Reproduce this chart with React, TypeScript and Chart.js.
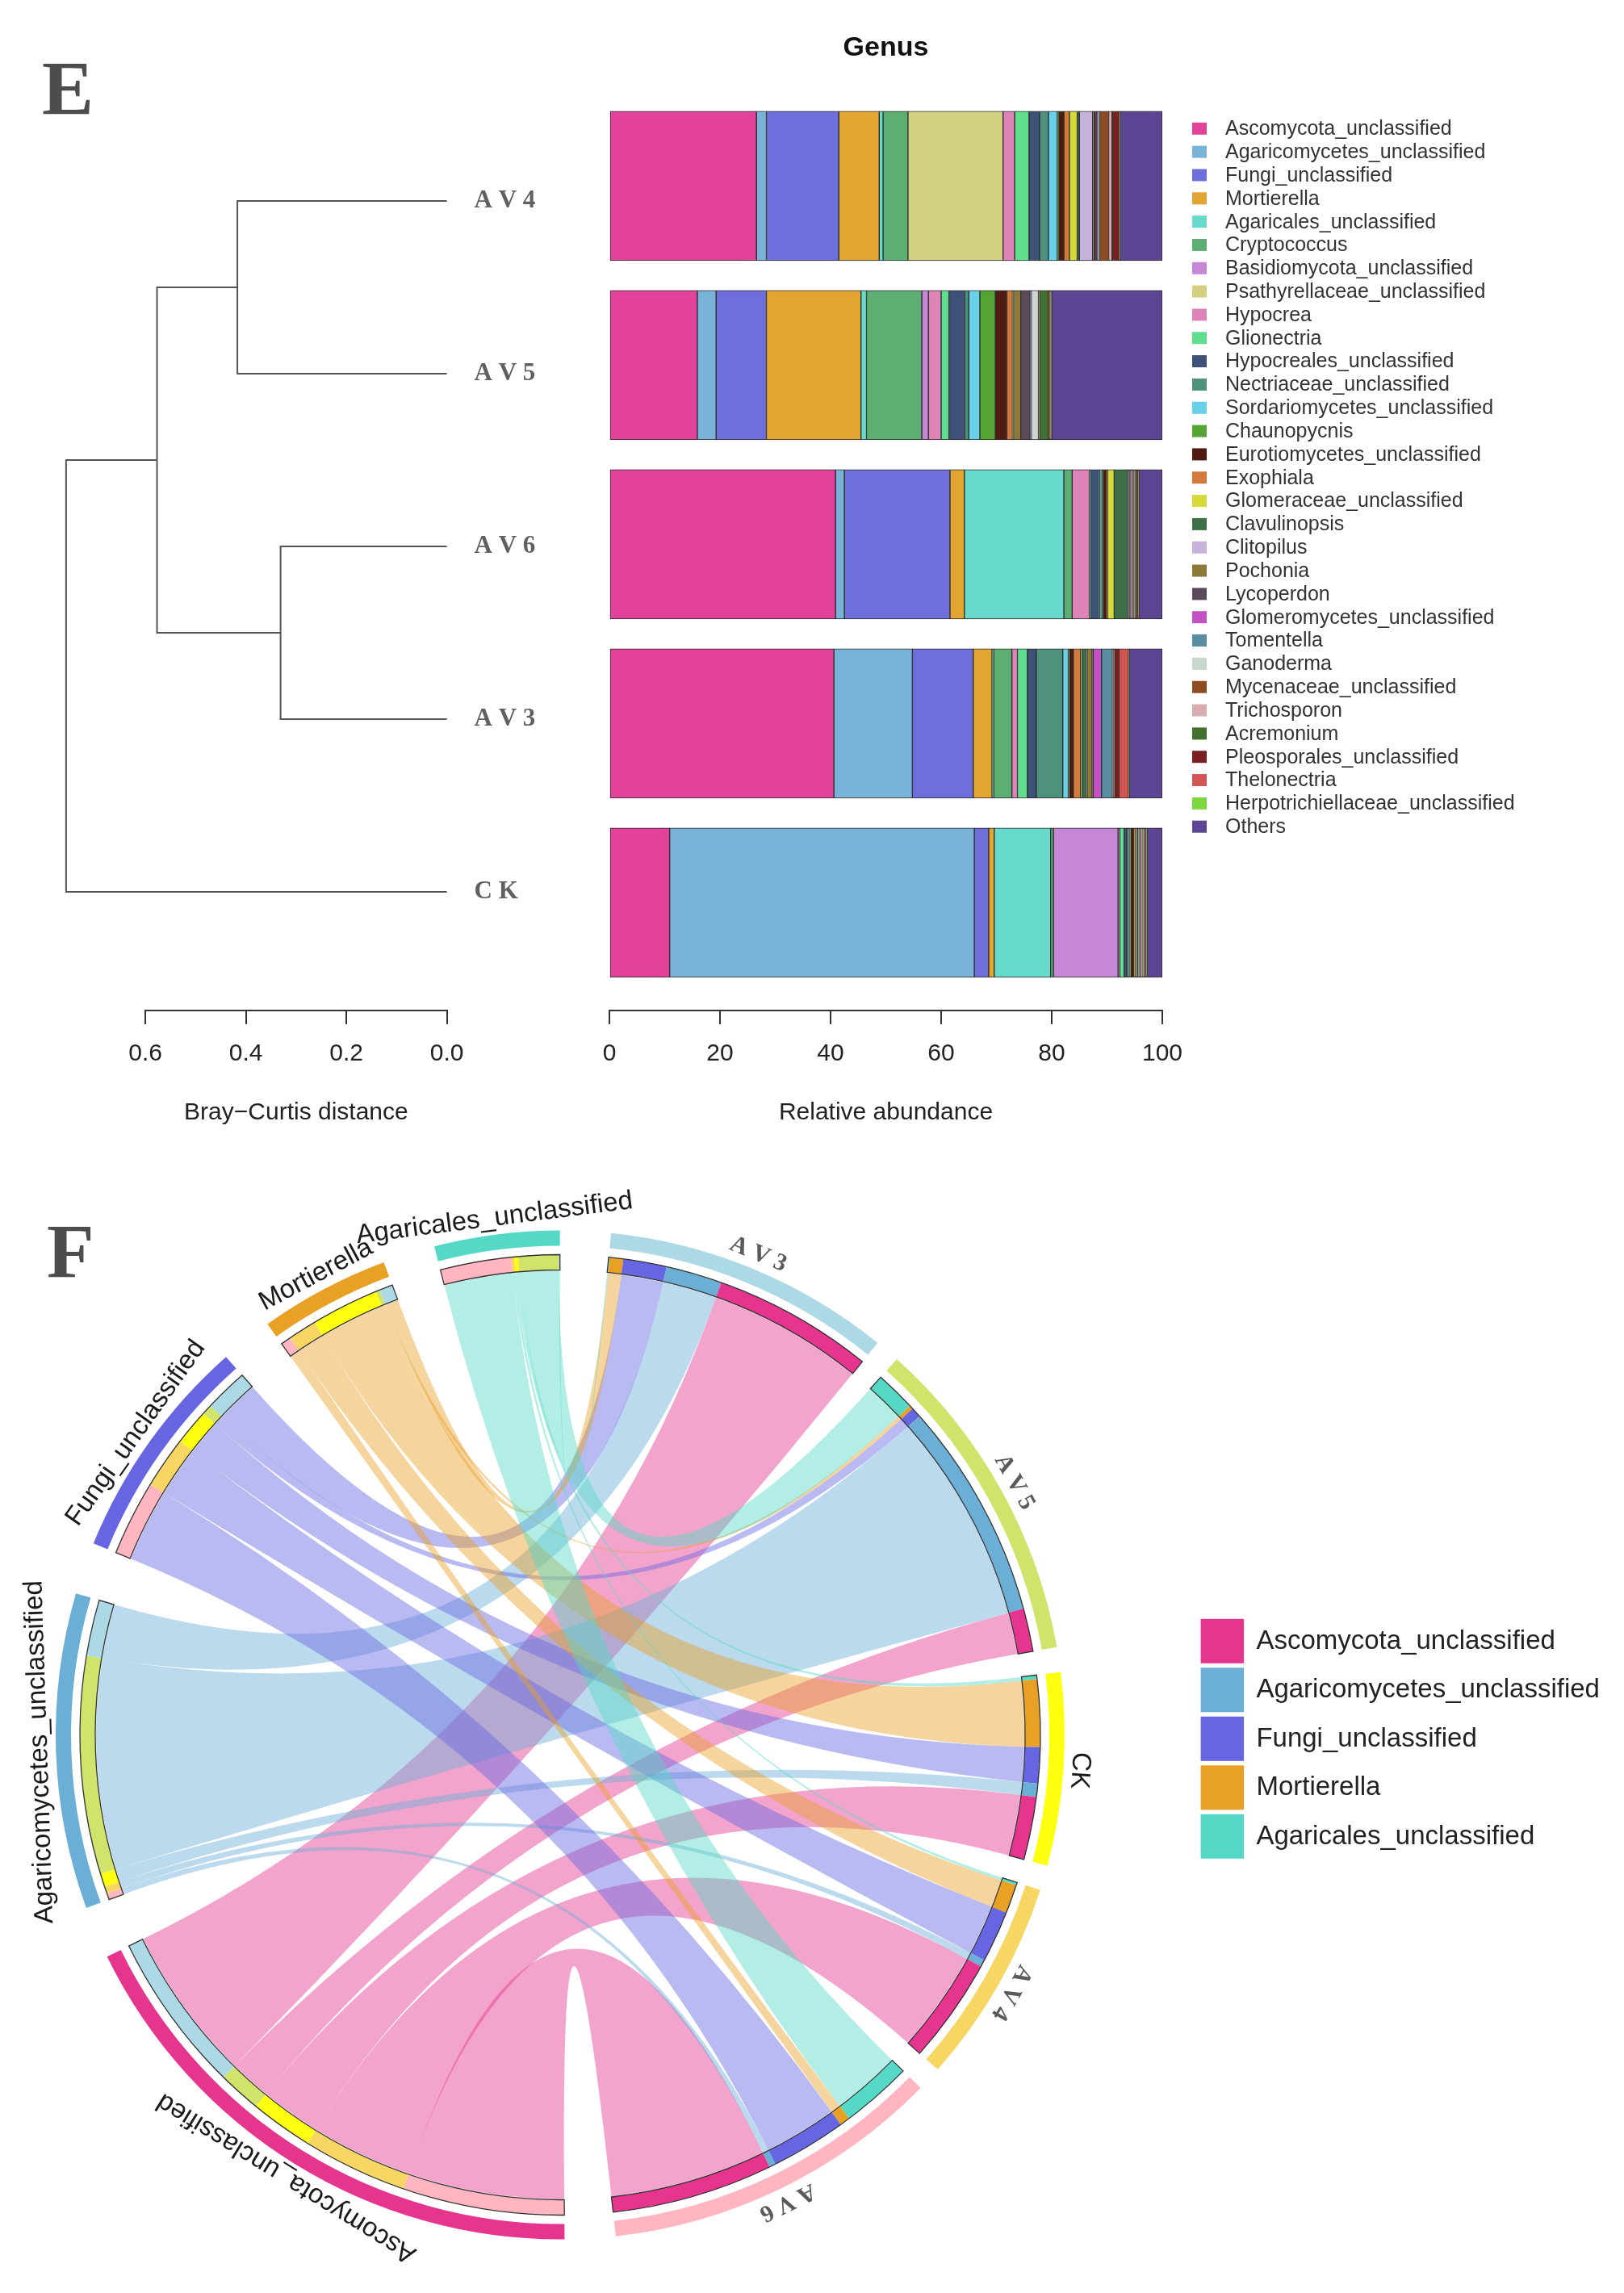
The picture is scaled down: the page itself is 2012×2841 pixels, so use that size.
import React, { useEffect, useRef } from 'react';
import { Chart, registerables } from 'chart.js';

Chart.register(...registerables);
Chart.defaults.font.family = '"Liberation Sans", Arial, Helvetica, sans-serif';

/* ================= Panel E : genus composition ================= */
const GENERA = [
  'Ascomycota_unclassified', 'Agaricomycetes_unclassified', 'Fungi_unclassified', 'Mortierella',
  'Agaricales_unclassified', 'Cryptococcus', 'Basidiomycota_unclassified', 'Psathyrellaceae_unclassified',
  'Hypocrea', 'Glionectria', 'Hypocreales_unclassified', 'Nectriaceae_unclassified',
  'Sordariomycetes_unclassified', 'Chaunopycnis', 'Eurotiomycetes_unclassified', 'Exophiala',
  'Glomeraceae_unclassified', 'Clavulinopsis', 'Clitopilus', 'Pochonia', 'Lycoperdon',
  'Glomeromycetes_unclassified', 'Tomentella', 'Ganoderma', 'Mycenaceae_unclassified', 'Trichosporon',
  'Acremonium', 'Pleosporales_unclassified', 'Thelonectria', 'Herpotrichiellaceae_unclassified', 'Others',
];
const GENUS_COLORS = [
  '#E3429A', '#7AB3D8', '#6E6FDA', '#E3A532', '#68DACB', '#5DAE72', '#C687D6', '#D3D180',
  '#DE84B8', '#60DE90', '#3E5278', '#4E927E', '#68D0E8', '#56A436', '#4E1A12', '#D27B3C',
  '#D6D93A', '#3D6F48', '#C7B2DC', '#8D7A36', '#5B4A5C', '#C452C4', '#5A8DA0', '#C8D8CE',
  '#8E4C22', '#D8ADB0', '#42702F', '#7C1F22', '#D45555', '#7CD83E', '#5C4593',
];
// relative abundance (%) per sample, in GENERA order
const AV4 = [26.6, 1.8, 13.1, 7.3, 0.7, 4.5, 0, 17.2, 2.1, 2.6, 1.9, 1.6, 1.6, 0.3, 0.9, 1.0, 1.4, 0.4, 2.4, 0.3, 0.5, 0.1, 0.1, 0.3, 1.6, 0.6, 0.1, 1.2, 0.1, 0.1, 7.6];
const AV5 = [15.9, 3.4, 9.1, 17.1, 1.0, 10.0, 1.2, 0, 2.3, 1.4, 2.9, 0.7, 2.0, 2.8, 2.1, 1.0, 0.1, 0.1, 0.1, 1.2, 1.7, 0.1, 0.1, 1.3, 0.1, 0.1, 1.6, 0.2, 0.1, 0.3, 20.0];
const AV6 = [40.9, 1.6, 19.1, 2.6, 18.0, 1.5, 0, 0, 3.1, 0.2, 1.4, 0.3, 0.4, 0.2, 0.6, 0.2, 1.2, 2.5, 0.1, 0.2, 0.2, 0.1, 0.1, 0.1, 0.3, 0.1, 0.3, 0.3, 0.1, 0.1, 4.2];
const AV3 = [40.6, 14.2, 11.0, 3.4, 0.3, 3.3, 0, 0, 1.0, 1.8, 1.6, 4.8, 1.0, 0.2, 0.7, 1.3, 0.2, 0.9, 0.1, 0.9, 0.2, 1.5, 2.0, 0.1, 0.1, 0.1, 0.1, 0.8, 1.7, 0.1, 6.0];
const CK = [10.9, 55.1, 2.6, 1.0, 10.2, 0.5, 11.7, 0, 0.3, 0.8, 0.5, 0.3, 0.2, 0.2, 0.5, 0.3, 0.2, 0.3, 0.1, 0.2, 0.1, 0.1, 0.1, 0.1, 0.2, 0.1, 0.2, 0.2, 0.1, 0.1, 2.8];
const BAR_ROWS = [AV4, AV5, AV6, AV3, CK]; // top -> bottom
const ABUNDANCE_TICKS = [0, 20, 40, 60, 80, 100];

/* dendrogram (Bray-Curtis) */
const LEAF_LABELS = ['A V 4', 'A V 5', 'A V 6', 'A V 3', 'C K'];
const MERGE_PAIRS = [[0, 1], [2, 3], [5, 6], [7, 4]]; // ids >= 5 refer to earlier merges
const MERGE_HEIGHTS = [0.417, 0.331, 0.577, 0.758];
const DISTANCE_TICKS = [0, 0.2, 0.4, 0.6];

/* ================= Panel F : chord diagram ================= */
const CHORD_GENERA = ['Ascomycota_unclassified', 'Agaricomycetes_unclassified', 'Fungi_unclassified', 'Mortierella', 'Agaricales_unclassified'];
const CHORD_GENUS_COLORS = ['#E5358E', '#6BAED6', '#6666E2', '#E8A025', '#55D9C6'];
const CHORD_SAMPLES = ['A V 3', 'A V 5', 'CK', 'A V 4', 'A V 6'];
const CHORD_SAMPLE_COLORS = ['#ADD8E6', '#D0E36A', '#FFFF10', '#F8D664', '#FFB6C1'];
// link widths, genus order as CHORD_GENERA
const CHORD_AV3 = [40.6, 14.2, 11.0, 3.4, 0.3];
const CHORD_AV5 = [10.9, 55.1, 2.6, 1.0, 10.2];
const CHORD_CK = [15.9, 3.4, 9.1, 17.1, 1.0];
const CHORD_AV4 = [26.6, 1.8, 13.1, 7.3, 0.7];
const CHORD_AV6 = [40.9, 1.6, 19.1, 2.6, 18.0];
const CHORD_MATRIX = [CHORD_AV3, CHORD_AV5, CHORD_CK, CHORD_AV4, CHORD_AV6];

/* layout constants */
const SAMPLE_GAP = 6;
const GENUS_GAP = 12.6;
const BIG_GAP = 12.2;
const TRACK_OUT = 595;
const TRACK_IN = 576;
const LINK_R = 575;
const LABEL_R = 636;

function rgba(hex: string, a: number) {
  const n = parseInt(hex.slice(1), 16);
  return `rgba(${(n >> 16) & 255},${(n >> 8) & 255},${n & 255},${a})`;
}

function panelLetter(letter: string, x: number, y: number) {
  return {
    id: 'letter' + letter,
    afterDraw(chart: any) {
      const ctx = chart.ctx;
      ctx.save();
      ctx.font = 'bold 96px "Liberation Serif", serif';
      ctx.fillStyle = '#4d4d4d';
      ctx.textAlign = 'left';
      ctx.textBaseline = 'alphabetic';
      ctx.fillText(letter, x, y);
      ctx.restore();
    },
  };
}

function axisCommon(ticks: number[], title: string, fmt: (v: number) => string) {
  return {
    type: 'linear',
    position: 'bottom',
    afterBuildTicks: (s: any) => { s.ticks = ticks.map((v) => ({ value: v })); },
    afterFit: (s: any) => { s.height = 150; },
    ticks: { callback: (v: any) => fmt(Number(v)), font: { size: 30 }, color: '#222', padding: 19, maxRotation: 0, autoSkip: false },
    grid: { drawOnChartArea: false, drawTicks: true, tickLength: 17, color: '#333', lineWidth: 2 },
    border: { display: true, color: '#333', width: 2 },
    title: { display: true, text: title, font: { size: 30 }, color: '#222', padding: { top: 0, bottom: 5 } },
  };
}

function dendroConfig(): any {
  const nodes: { h: number; y: number }[] = LEAF_LABELS.map((_, i) => ({ h: 0, y: i }));
  const datasets = MERGE_PAIRS.map(([a, b], k) => {
    const A = nodes[a];
    const B = nodes[b];
    const H = MERGE_HEIGHTS[k];
    nodes.push({ h: H, y: (A.y + B.y) / 2 });
    return {
      data: [{ x: A.h, y: A.y }, { x: H, y: A.y }, { x: H, y: B.y }, { x: B.h, y: B.y }],
      showLine: true, borderColor: '#555', borderWidth: 2, pointRadius: 0, fill: false, tension: 0, clip: false,
    };
  });
  return {
    type: 'scatter',
    data: { datasets },
    options: {
      responsive: false, animation: false, devicePixelRatio: 1, events: [],
      layout: { padding: { left: 180.2, right: 26.4, top: 100, bottom: 38 } },
      plugins: { legend: { display: false }, tooltip: { enabled: false } },
      scales: {
        x: { ...axisCommon(DISTANCE_TICKS, 'Bray\u2212Curtis distance', (v) => v.toFixed(1)), min: 0, max: 0.6, reverse: true },
        y: {
          type: 'linear', position: 'right', min: -0.696, max: 4.687, reverse: true, offset: false,
          afterBuildTicks: (s: any) => { s.ticks = LEAF_LABELS.map((_, i) => ({ value: i })); },
          afterFit: (s: any) => { s.width = 120; },
          ticks: { callback: (v: any) => LEAF_LABELS[Number(v)], font: { family: '"Liberation Serif", serif', size: 31, weight: 'bold' }, color: '#606060', padding: 34 },
          grid: { display: false, drawTicks: false },
          border: { display: false },
        },
      },
    },
    plugins: [panelLetter('E', 52, 142)],
  };
}

function barConfig(): any {
  const datasets = GENERA.map((g, gi) => ({
    label: g,
    data: BAR_ROWS.map((row, si) => ({ x: row[gi], y: si })),
    backgroundColor: GENUS_COLORS[gi],
    borderColor: '#2b2b2b',
    borderWidth: 1,
    borderSkipped: false,
    barThickness: 185,
  }));
  const extras = {
    id: 'barExtras',
    afterDraw(chart: any) {
      const ctx = chart.ctx;
      const area = chart.chartArea;
      ctx.save();
      ctx.fillStyle = '#111';
      ctx.font = 'bold 34px "Liberation Sans", Arial, sans-serif';
      ctx.textAlign = 'center';
      ctx.textBaseline = 'middle';
      ctx.fillText('Genus', (area.left + area.right) / 2, 60);
      ctx.font = '25px "Liberation Sans", Arial, sans-serif';
      ctx.textAlign = 'left';
      chart.data.datasets.forEach((ds: any, i: number) => {
        const y = 159.3 + 28.83 * i;
        ctx.fillStyle = ds.backgroundColor;
        ctx.fillRect(777, y - 7.5, 18, 15);
        ctx.fillStyle = '#333';
        ctx.fillText(ds.label, 818, y + 1);
      });
      ctx.restore();
    },
  };
  return {
    type: 'bar',
    data: { datasets },
    options: {
      indexAxis: 'y', responsive: false, animation: false, devicePixelRatio: 1, events: [],
      layout: { padding: { left: 55, right: 572, top: 100, bottom: 38 } },
      plugins: { legend: { display: false }, tooltip: { enabled: false } },
      scales: {
        x: { ...axisCommon(ABUNDANCE_TICKS, 'Relative abundance', (v) => String(v)), min: 0, max: 100, stacked: true },
        y: { type: 'linear', min: -0.587, max: 4.602, reverse: true, stacked: true, offset: false, display: false },
      },
    },
    plugins: [extras],
  };
}

function chordConfig(): any {
  const nS = CHORD_SAMPLES.length;
  const nG = CHORD_GENERA.length;
  const outerVals: number[] = [];
  const outerCols: string[] = [];
  const outerInfo: { label: string; kind: string }[] = [];
  const innerVals: number[] = [];
  const innerCols: string[] = [];
  const idx: Record<string, number> = {};
  const pushGap = (v: number) => {
    outerVals.push(v); outerCols.push('rgba(0,0,0,0)'); outerInfo.push({ label: '', kind: 'gap' });
    innerVals.push(v); innerCols.push('rgba(0,0,0,0)');
  };
  for (let s = 0; s < nS; s++) {
    let tot = 0;
    for (let g = nG - 1; g >= 0; g--) {
      idx[`S${s}_${g}`] = innerVals.length;
      innerVals.push(CHORD_MATRIX[s][g]); innerCols.push(CHORD_GENUS_COLORS[g]);
      tot += CHORD_MATRIX[s][g];
    }
    outerVals.push(tot); outerCols.push(CHORD_SAMPLE_COLORS[s]); outerInfo.push({ label: CHORD_SAMPLES[s], kind: 'sample' });
    pushGap(s < nS - 1 ? SAMPLE_GAP : BIG_GAP);
  }
  for (let g = 0; g < nG; g++) {
    let tot = 0;
    for (let s = nS - 1; s >= 0; s--) {
      idx[`G${g}_${s}`] = innerVals.length;
      innerVals.push(CHORD_MATRIX[s][g]); innerCols.push(CHORD_SAMPLE_COLORS[s]);
      tot += CHORD_MATRIX[s][g];
    }
    outerVals.push(tot); outerCols.push(CHORD_GENUS_COLORS[g]); outerInfo.push({ label: CHORD_GENERA[g], kind: 'genus' });
    pushGap(g < nG - 1 ? GENUS_GAP : BIG_GAP);
  }

  const plugin = {
    id: 'chord',
    beforeDatasetsDraw(chart: any) {
      const ctx = chart.ctx;
      const inner = chart.getDatasetMeta(2).data;
      const cx = inner[0].x;
      const cy = inner[0].y;
      ctx.save();
      for (let g = 0; g < nG; g++) {
        for (let s = 0; s < nS; s++) {
          if (CHORD_MATRIX[s][g] <= 0) continue;
          const A = inner[idx[`G${g}_${s}`]];
          const B = inner[idx[`S${s}_${g}`]];
          ctx.beginPath();
          ctx.arc(cx, cy, LINK_R, A.startAngle, A.endAngle);
          ctx.quadraticCurveTo(cx, cy, cx + LINK_R * Math.cos(B.startAngle), cy + LINK_R * Math.sin(B.startAngle));
          ctx.arc(cx, cy, LINK_R, B.startAngle, B.endAngle);
          ctx.quadraticCurveTo(cx, cy, cx + LINK_R * Math.cos(A.startAngle), cy + LINK_R * Math.sin(A.startAngle));
          ctx.closePath();
          ctx.fillStyle = rgba(CHORD_GENUS_COLORS[g], 0.45);
          ctx.fill();
        }
      }
      ctx.restore();
    },
    afterDatasetsDraw(chart: any) {
      const ctx = chart.ctx;
      const outer = chart.getDatasetMeta(0).data;
      const cx = outer[0].x;
      const cy = outer[0].y;
      ctx.save();
      outerInfo.forEach((info, i) => {
        if (info.kind === 'gap') return;
        const a0 = outer[i].startAngle;
        const a1 = outer[i].endAngle;
        ctx.beginPath();
        ctx.arc(cx, cy, TRACK_OUT, a0, a1);
        ctx.arc(cx, cy, TRACK_IN, a1, a0, true);
        ctx.closePath();
        ctx.strokeStyle = '#333';
        ctx.lineWidth = 1.3;
        ctx.stroke();
        const mid = (a0 + a1) / 2;
        ctx.save();
        ctx.translate(cx, cy);
        ctx.rotate(mid + Math.PI / 2);
        ctx.textAlign = 'center';
        ctx.textBaseline = 'alphabetic';
        if (info.kind === 'genus' || info.label === 'CK') {
          ctx.font = '33px "Liberation Sans", Arial, sans-serif';
          ctx.fillStyle = '#1a1a1a';
        } else {
          ctx.font = 'bold 30px "Liberation Serif", serif';
          ctx.fillStyle = '#5a5a5a';
        }
        ctx.fillText(info.label, 0, -LABEL_R);
        ctx.restore();
      });
      ctx.restore();
    },
    afterDraw(chart: any) {
      const ctx = chart.ctx;
      ctx.save();
      ctx.font = '33px "Liberation Sans", Arial, sans-serif';
      ctx.textAlign = 'left';
      ctx.textBaseline = 'middle';
      CHORD_GENERA.forEach((g, i) => {
        const y = 565.8 + 60.5 * i;
        ctx.fillStyle = CHORD_GENUS_COLORS[i];
        ctx.fillRect(1487.6, y, 53.5, 55);
        ctx.fillStyle = '#222';
        ctx.fillText(g, 1556.4, y + 28);
      });
      ctx.restore();
    },
  };

  return {
    type: 'doughnut',
    data: {
      labels: outerInfo.map((o) => o.label),
      datasets: [
        { data: outerVals, backgroundColor: outerCols, borderWidth: 0, weight: 19, clip: false },
        { data: outerVals, backgroundColor: 'rgba(0,0,0,0)', borderWidth: 0, weight: 11, clip: false },
        { data: innerVals, backgroundColor: innerCols, borderWidth: 0, weight: 19, clip: false },
      ],
    },
    options: {
      responsive: false, animation: false, devicePixelRatio: 1, events: [],
      rotation: 5.8,
      cutout: TRACK_IN,
      layout: { padding: { left: 69, top: 84.5, right: 693, bottom: 66.5 } },
      plugins: { legend: { display: false }, tooltip: { enabled: false } },
    },
    plugins: [plugin, panelLetter('F', 58, 143)],
  };
}

export default function App() {
  const dRef = useRef<HTMLCanvasElement>(null);
  const bRef = useRef<HTMLCanvasElement>(null);
  const cRef = useRef<HTMLCanvasElement>(null);
  useEffect(() => {
    const charts = [
      new Chart(dRef.current as HTMLCanvasElement, dendroConfig()),
      new Chart(bRef.current as HTMLCanvasElement, barConfig()),
      new Chart(cRef.current as HTMLCanvasElement, chordConfig()),
    ];
    return () => charts.forEach((c) => c.destroy());
  }, []);
  return (
    <div style={{ position: 'absolute', left: 0, top: 0, width: 2012, height: 2841, background: '#fff', overflow: 'hidden' }}>
      <canvas ref={dRef} width={700} height={1440} style={{ position: 'absolute', left: 0, top: 0, width: 700, height: 1440 }} />
      <canvas ref={bRef} width={1312} height={1440} style={{ position: 'absolute', left: 700, top: 0, width: 1312, height: 1440 }} />
      <canvas ref={cRef} width={2012} height={1401} style={{ position: 'absolute', left: 0, top: 1440, width: 2012, height: 1401 }} />
    </div>
  );
}
